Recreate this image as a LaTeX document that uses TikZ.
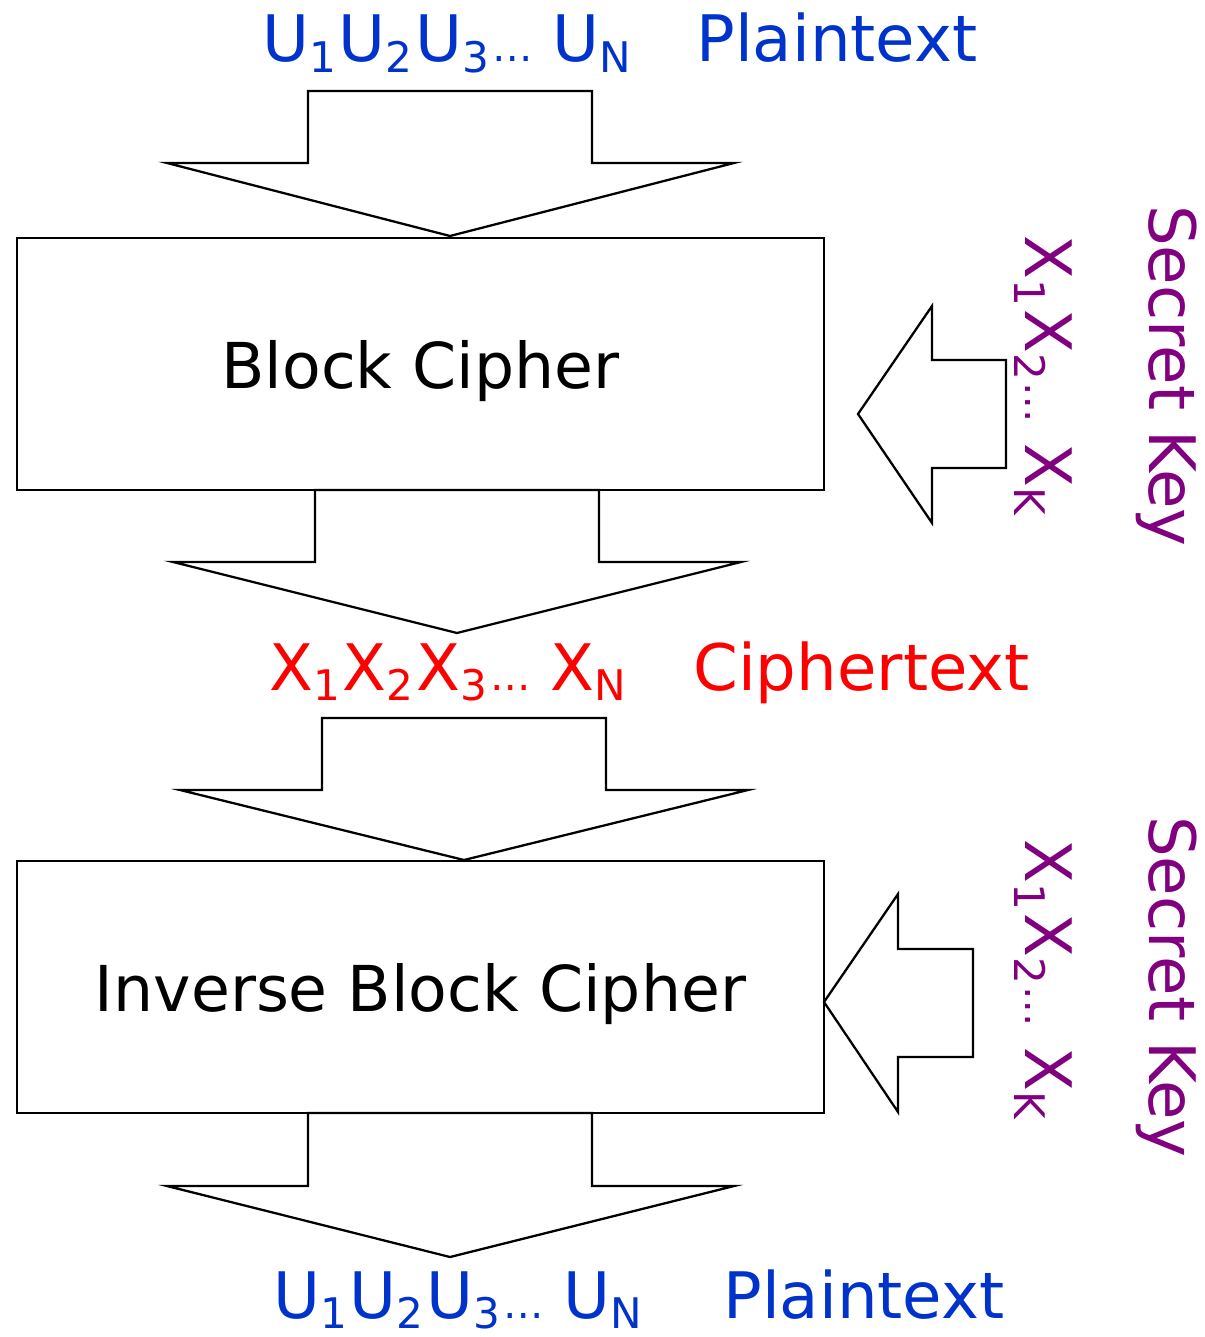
\documentclass[tikz,border=0pt]{standalone}
\usepackage{fontspec}
\setmainfont{DejaVu Sans}
\definecolor{plainblue}{HTML}{0033CC}
\definecolor{keypurple}{HTML}{800080}
\newcommand\lowsub[1]{\raisebox{-0.16em}{\fontsize{24}{24}\selectfont #1}\kern1.6pt}
\newcommand\smalldots{{\fontsize{23}{23}\selectfont …}}
\tikzset{
  bigtext/.style={inner sep=0pt, font=\fontsize{36.5}{40}\selectfont},
  cipherbox/.style={draw, line width=1.3pt, minimum width=16.14cm, minimum height=5.04cm,
                    inner sep=0pt, text depth=0pt, font=\fontsize{36}{40}\selectfont},
  blockarrow/.style={draw, line width=1.3pt, line join=miter, fill=white}
}
\begin{document}
\begin{tikzpicture}[x=0.02cm, y=-0.02cm]
  \useasboundingbox (0,0) rectangle (1204,1337);

  % cipher boxes
  \node (enc) [cipherbox] at (420.5,364) {Block Cipher};
  \node (dec) [cipherbox] at (420.5,987) {Inverse Block Cipher};

  % plaintext in
  \node (ptin) [bigtext, text=plainblue, anchor=base west] at (262,62)
    {U\lowsub{1}U\lowsub{2}U\lowsub{3}\smalldots{} U\lowsub{N}};
  \node (ptinlbl) [bigtext, text=plainblue, anchor=base west] at (696,62) {Plaintext};

  % ciphertext
  \node (ct) [bigtext, text=red, anchor=base west] at (269,690)
    {X\lowsub{1}X\lowsub{2}X\lowsub{3}\smalldots{} X\lowsub{N}};
  \node (ctlbl) [bigtext, text=red, anchor=base west] at (693,690) {Ciphertext};

  % plaintext out
  \node (ptout) [bigtext, text=plainblue, anchor=base west] at (273,1318)
    {U\lowsub{1}U\lowsub{2}U\lowsub{3}\smalldots{} U\lowsub{N}};
  \node (ptoutlbl) [bigtext, text=plainblue, anchor=base west] at (723,1318) {Plaintext};

  % secret keys
  \node (key1) [bigtext, text=keypurple, anchor=base, rotate=-90] at (1025,377)
    {X\lowsub{1}X\lowsub{2}\smalldots{} X\lowsub{K}};
  \node (key1lbl) [bigtext, text=keypurple, anchor=base, rotate=-90] at (1149,376) {Secret Key};
  \node (key2) [bigtext, text=keypurple, anchor=base, rotate=-90] at (1025,981)
    {X\lowsub{1}X\lowsub{2}\smalldots{} X\lowsub{K}};
  \node (key2lbl) [bigtext, text=keypurple, anchor=base, rotate=-90] at (1149,987) {Secret Key};

  % downward block arrows
  \draw[blockarrow] (308,91) -- (592,91) -- (592,163) -- (734,163) -- (450,236)
    -- (167,163) -- (308,163) -- cycle;
  \draw[blockarrow] (315,490) -- (599,490) -- (599,562) -- (741,562) -- (457,633)
    -- (173,562) -- (315,562) -- cycle;
  \draw[blockarrow] (322,718) -- (606,718) -- (606,790) -- (748,790) -- (464,860)
    -- (180,790) -- (322,790) -- cycle;
  \draw[blockarrow] (308,1113) -- (592,1113) -- (592,1186) -- (734,1186) -- (450,1257)
    -- (167,1186) -- (308,1186) -- cycle;

  % leftward key arrows
  \draw[blockarrow] (1006,360) -- (932,360) -- (932,306) -- (858,414) -- (932,523)
    -- (932,468) -- (1006,468) -- cycle;
  \draw[blockarrow] (973,949) -- (898,949) -- (898,894) -- (824,1002) -- (898,1112)
    -- (898,1057) -- (973,1057) -- cycle;
\end{tikzpicture}
\end{document}
